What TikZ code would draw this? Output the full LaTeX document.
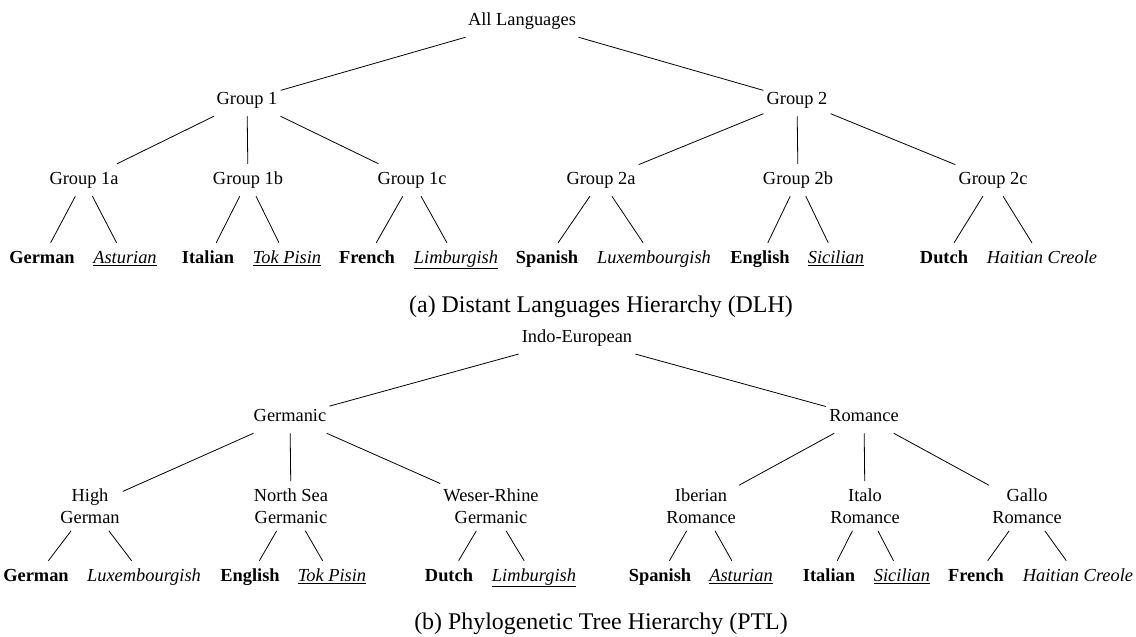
\documentclass[tikz,border=0pt]{standalone}
\usepackage{fontspec}
\setmainfont{Liberation Serif}
\begin{document}
\begin{tikzpicture}[x=1pt,y=-1pt,
  tn/.style={font=\fontsize{18.4}{21.7}\selectfont, text height=12.9pt, text depth=4.6pt, inner xsep=3pt, inner ysep=7.3pt},
  tnn/.style={font=\fontsize{18.4}{21.7}\selectfont, align=center, inner xsep=3pt, inner ysep=7.3pt},
  capt/.style={font=\fontsize{23.9}{28}\selectfont, inner sep=0pt},
  edge/.style={line width=0.8pt}]
\useasboundingbox (0,0) rectangle (1136,637);

% ---------- (a) DLH ----------
\node[tn] (tr) at (522,21) {All Languages};
\node[tn] (tg1) at (247,100) {Group 1};
\node[tn] (tg2) at (797,100) {Group 2};
\node[tn] (tg1a) at (84,180) {Group 1a};
\node[tn] (tg1b) at (248,180) {Group 1b};
\node[tn] (tg1c) at (412,180) {Group 1c};
\node[tn] (tg2a) at (601,180) {Group 2a};
\node[tn] (tg2b) at (798,180) {Group 2b};
\node[tn] (tg2c) at (993,180) {Group 2c};

\node[tn] (tl1) at (42,259) {\textbf{German}};
\node[tn] (tl2) at (125,259) {\underline{\textit{Asturian}}};
\node[tn] (tl3) at (208,259) {\textbf{Italian}};
\node[tn] (tl4) at (287,259) {\underline{\textit{Tok Pisin}}};
\node[tn] (tl5) at (367,259) {\textbf{French}};
\node[tn] (tl6) at (456,259) {\underline{\textit{Limburgish}}};
\node[tn] (tl7) at (547,259) {\textbf{Spanish}};
\node[tn] (tl8) at (654,259) {\textit{Luxembourgish}};
\node[tn] (tl9) at (760,259) {\textbf{English}};
\node[tn] (tl10) at (836,259) {\underline{\textit{Sicilian}}};
\node[tn] (tl11) at (944,259) {\textbf{Dutch}};
\node[tn] (tl12) at (1042,259) {\textit{Haitian Creole}};

\node[capt] (tcap) at (601,307) {(a) Distant Languages Hierarchy (DLH)};

\draw[edge] (tr) -- (tg1);
\draw[edge] (tr) -- (tg2);
\draw[edge] (tg1) -- (tg1a);
\draw[edge] (tg1) -- (tg1b);
\draw[edge] (tg1) -- (tg1c);
\draw[edge] (tg2) -- (tg2a);
\draw[edge] (tg2) -- (tg2b);
\draw[edge] (tg2) -- (tg2c);
\draw[edge] (tg1a) -- (tl1);
\draw[edge] (tg1a) -- (tl2);
\draw[edge] (tg1b) -- (tl3);
\draw[edge] (tg1b) -- (tl4);
\draw[edge] (tg1c) -- (tl5);
\draw[edge] (tg1c) -- (tl6);
\draw[edge] (tg2a) -- (tl7);
\draw[edge] (tg2a) -- (tl8);
\draw[edge] (tg2b) -- (tl9);
\draw[edge] (tg2b) -- (tl10);
\draw[edge] (tg2c) -- (tl11);
\draw[edge] (tg2c) -- (tl12);

% ---------- (b) PTL ----------
\node[tn] (br) at (577,338) {Indo-European};
\node[tn] (bgerm) at (290,417) {Germanic};
\node[tn] (brom) at (864,417) {Romance};
\node[tnn] (bhg) at (90,506) {High\\German};
\node[tnn] (bns) at (291,506) {North Sea\\Germanic};
\node[tnn] (bwr) at (491,506) {Weser-Rhine\\Germanic};
\node[tnn] (bib) at (701,506) {Iberian\\Romance};
\node[tnn] (bit) at (865,506) {Italo\\Romance};
\node[tnn] (bga) at (1027,506) {Gallo\\Romance};

\node[tn] (bl1) at (36,577) {\textbf{German}};
\node[tn] (bl2) at (144,577) {\textit{Luxembourgish}};
\node[tn] (bl3) at (250,577) {\textbf{English}};
\node[tn] (bl4) at (332,577) {\underline{\textit{Tok Pisin}}};
\node[tn] (bl5) at (449,577) {\textbf{Dutch}};
\node[tn] (bl6) at (534,577) {\underline{\textit{Limburgish}}};
\node[tn] (bl7) at (660,577) {\textbf{Spanish}};
\node[tn] (bl8) at (741,577) {\underline{\textit{Asturian}}};
\node[tn] (bl9) at (829,577) {\textbf{Italian}};
\node[tn] (bl10) at (902,577) {\underline{\textit{Sicilian}}};
\node[tn] (bl11) at (976,577) {\textbf{French}};
\node[tn] (bl12) at (1078,577) {\textit{Haitian Creole}};

\node[capt] (bcap) at (601,624) {(b) Phylogenetic Tree Hierarchy (PTL)};

\draw[edge] (br) -- (bgerm);
\draw[edge] (br) -- (brom);
\draw[edge] (bgerm) -- (bhg);
\draw[edge] (bgerm) -- (bns);
\draw[edge] (bgerm) -- (bwr);
\draw[edge] (brom) -- (bib);
\draw[edge] (brom) -- (bit);
\draw[edge] (brom) -- (bga);
\draw[edge] (bhg) -- (bl1);
\draw[edge] (bhg) -- (bl2);
\draw[edge] (bns) -- (bl3);
\draw[edge] (bns) -- (bl4);
\draw[edge] (bwr) -- (bl5);
\draw[edge] (bwr) -- (bl6);
\draw[edge] (bib) -- (bl7);
\draw[edge] (bib) -- (bl8);
\draw[edge] (bit) -- (bl9);
\draw[edge] (bit) -- (bl10);
\draw[edge] (bga) -- (bl11);
\draw[edge] (bga) -- (bl12);
\end{tikzpicture}
\end{document}
